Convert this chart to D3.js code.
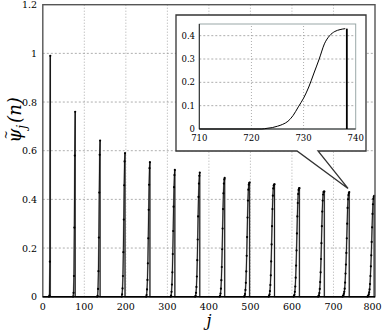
<!DOCTYPE html>
<html>
<head>
<meta charset="utf-8">
<script src="https://cdn.jsdelivr.net/npm/d3@7"></script>
<style>
body { margin: 0; background: #fff; }
svg text { font-family: "DejaVu Serif", "Liberation Serif", serif; }
</style>
</head>
<body>
<svg id="chart" width="382" height="332"></svg>
<script>
// spike values, last value sits at the peak j, then drops to 0
var peaks = [18, 78, 138, 198, 258, 318, 378, 438, 498, 558, 618, 678, 738, 798];
var spikeValues = [
  [0, 0.005, 0.144, 0.99],
  [0, 0.016, 0.085, 0.284, 0.58, 0.76],
  [0, 0.003, 0.032, 0.105, 0.243, 0.428, 0.583, 0.642],
  [0, 0.01, 0.034, 0.085, 0.183, 0.317, 0.458, 0.556, 0.59],
  [0, 0.007, 0.03, 0.069, 0.137, 0.24, 0.357, 0.46, 0.528, 0.553],
  [0, 0.005, 0.02, 0.05, 0.1, 0.175, 0.27, 0.37, 0.45, 0.5, 0.521],
  [0, 0.004, 0.016, 0.04, 0.083, 0.15, 0.235, 0.33, 0.41, 0.465, 0.497, 0.51],
  [0, 0.004, 0.013, 0.033, 0.068, 0.122, 0.195, 0.28, 0.36, 0.425, 0.465, 0.482, 0.488],
  [0, 0.003, 0.011, 0.028, 0.057, 0.104, 0.168, 0.245, 0.325, 0.395, 0.44, 0.46, 0.467, 0.469],
  [0, 0.003, 0.009, 0.023, 0.048, 0.088, 0.145, 0.215, 0.29, 0.36, 0.415, 0.445, 0.457, 0.461, 0.462],
  [0, 0.003, 0.008, 0.02, 0.042, 0.078, 0.128, 0.19, 0.26, 0.33, 0.385, 0.422, 0.439, 0.445, 0.446],
  [0, 0.002, 0.006, 0.015, 0.032, 0.06, 0.1, 0.155, 0.22, 0.29, 0.35, 0.395, 0.42, 0.43, 0.432, 0.432],
  [0, 0.003, 0.006, 0.012, 0.02, 0.033, 0.058, 0.095, 0.132, 0.18, 0.24, 0.3, 0.365, 0.4, 0.418, 0.426, 0.43],
  [0, 0.002, 0.005, 0.01, 0.018, 0.03, 0.052, 0.085, 0.125, 0.17, 0.225, 0.285, 0.34, 0.38, 0.402, 0.41, 0.414]
];
var xTicks = [0, 100, 200, 300, 400, 500, 600, 700, 800];
var yTicks = [0, 0.2, 0.4, 0.6, 0.8, 1, 1.2];
var insetXTicks = [710, 720, 730, 740];
var insetYTicks = [0, 0.1, 0.2, 0.3, 0.4];
var insetSpike = 12; // the spike at j = 738

var svg = d3.select("#chart");

var x = d3.scaleLinear().domain([0, 800]).range([42.8, 375]);
var y = d3.scaleLinear().domain([0, 1.2]).range([296.7, 4.7]);

// build the series
var pts = [[0, 0]];
var spikes = [];
peaks.forEach(function(p, i){
    var vals = spikeValues[i];
    var start = p - vals.length + 1;
    var sp = vals.map(function(v, k){ return [start + k, v]; });
    spikes.push(sp);
    sp.forEach(function(d){ pts.push(d); });
    pts.push([p, 0]);
});
pts.push([800, 0]);

// grid
svg.append("g").selectAll("line").data(xTicks.slice(1, -1)).enter().append("line")
    .attr("x1", function(d){ return x(d); }).attr("x2", function(d){ return x(d); })
    .attr("y1", y(0)).attr("y2", y(1.2))
    .attr("stroke", "#999").attr("stroke-width", 0.8).attr("stroke-dasharray", "1,2");
svg.append("g").selectAll("line").data(yTicks.slice(1, -1)).enter().append("line")
    .attr("x1", x(0)).attr("x2", x(800))
    .attr("y1", function(d){ return y(d); }).attr("y2", function(d){ return y(d); })
    .attr("stroke", "#999").attr("stroke-width", 0.8).attr("stroke-dasharray", "2,2");

var line = d3.line().x(function(d){ return x(d[0]); }).y(function(d){ return y(d[1]); });

svg.append("path").datum(pts).attr("d", line)
    .attr("fill", "none").attr("stroke", "#999").attr("stroke-width", 1.6);
svg.append("path").datum(pts).attr("d", line)
    .attr("fill", "none").attr("stroke", "#000").attr("stroke-width", 0.8);

spikes.forEach(function(sp){
    svg.append("g").selectAll("circle").data(sp).enter().append("circle")
        .attr("cx", function(d){ return x(d[0]); })
        .attr("cy", function(d){ return y(d[1]); })
        .attr("r", 1.1).attr("fill", "#000");
});

// frame
svg.append("rect").attr("x", x(0)).attr("y", y(1.2))
    .attr("width", x(800) - x(0)).attr("height", y(0) - y(1.2))
    .attr("fill", "none").attr("stroke", "#555").attr("stroke-width", 1.4);
svg.append("line").attr("x1", x(0)).attr("x2", x(800)).attr("y1", y(0)).attr("y2", y(0))
    .attr("stroke", "#000").attr("stroke-width", 1.4);

// tick labels
svg.append("g").selectAll("text").data(xTicks).enter().append("text")
    .attr("x", function(d){ return Math.min(x(d), 372.5); }).attr("y", 310)
    .attr("text-anchor", "middle").attr("font-size", 9.5)
    .text(function(d){ return d; });
svg.append("g").selectAll("text").data(yTicks).enter().append("text")
    .attr("x", 37).attr("y", function(d){ return y(d) + 3.5; })
    .attr("text-anchor", "end").attr("font-size", 9.5)
    .text(function(d){ return d; });

svg.append("text").attr("x", 209).attr("y", 326).attr("text-anchor", "middle")
    .attr("font-size", 16).attr("font-style", "italic").text("j");

var yl = svg.append("g").attr("transform", "translate(21,120) rotate(-90)");
var ylt = yl.append("text").attr("text-anchor", "middle")
    .attr("font-size", 18).attr("font-style", "italic");
ylt.append("tspan").text("\u03c8");
ylt.append("tspan").attr("font-size", 12).attr("dy", 5).text("j");
ylt.append("tspan").attr("dy", -5).attr("dx", 2).text("(n)");
yl.append("text").attr("x", -15).attr("y", -11).attr("font-size", 11)
    .attr("text-anchor", "middle").text("~");

// inset callout
var bx0 = 176, bx1 = 366, by0 = 15, by1 = 151;
var tip = [x(735), y(0.445)];
svg.append("path")
    .attr("d", "M" + bx0 + "," + by0 + "H" + bx1 + "V" + by1 + "H318L" + tip[0] + "," + tip[1] + "L297," + by1 + "H" + bx0 + "Z")
    .attr("fill", "#fff").attr("stroke", "#333").attr("stroke-width", 1.3);

var ix = d3.scaleLinear().domain([710, 740]).range([199.3, 355.7]);
var iy = d3.scaleLinear().domain([0, 0.45]).range([129, 24]);
var inset = svg.append("g");

inset.append("g").selectAll("line").data([720, 730]).enter().append("line")
    .attr("x1", function(d){ return ix(d); }).attr("x2", function(d){ return ix(d); })
    .attr("y1", iy(0)).attr("y2", iy(0.45))
    .attr("stroke", "#999").attr("stroke-width", 0.8).attr("stroke-dasharray", "1,2");
inset.append("g").selectAll("line").data(insetYTicks.slice(1)).enter().append("line")
    .attr("x1", ix(710)).attr("x2", ix(740))
    .attr("y1", function(d){ return iy(d); }).attr("y2", function(d){ return iy(d); })
    .attr("stroke", "#999").attr("stroke-width", 0.8).attr("stroke-dasharray", "2,2");

inset.append("rect").attr("x", ix(710)).attr("y", iy(0.45))
    .attr("width", ix(740) - ix(710)).attr("height", iy(0) - iy(0.45))
    .attr("fill", "none").attr("stroke", "#9aa8a8").attr("stroke-width", 1);
inset.append("path").attr("d", "M" + ix(710) + "," + iy(0.45) + "V" + iy(0) + "H" + ix(740))
    .attr("fill", "none").attr("stroke", "#222").attr("stroke-width", 1);

var sp = spikes[insetSpike];
var curvePts = [[710, 0]].concat(sp);
var iline = d3.line().x(function(d){ return ix(d[0]); }).y(function(d){ return iy(d[1]); })
    .curve(d3.curveMonotoneX);
inset.append("path").datum(curvePts).attr("d", iline)
    .attr("fill", "none").attr("stroke", "#000").attr("stroke-width", 1);
var last = sp[sp.length - 1];
inset.append("line").attr("x1", ix(last[0] + 0.3)).attr("x2", ix(last[0] + 0.3))
    .attr("y1", iy(last[1])).attr("y2", iy(0))
    .attr("stroke", "#000").attr("stroke-width", 1.8);

inset.append("g").selectAll("text").data(insetXTicks).enter().append("text")
    .attr("x", function(d){ return ix(d); }).attr("y", 141)
    .attr("text-anchor", "middle").attr("font-size", 8.5)
    .text(function(d){ return d; });
inset.append("g").selectAll("text").data(insetYTicks).enter().append("text")
    .attr("x", 195).attr("y", function(d){ return iy(d) + 3; })
    .attr("text-anchor", "end").attr("font-size", 8.5)
    .text(function(d){ return d; });
</script>
</body>
</html>
